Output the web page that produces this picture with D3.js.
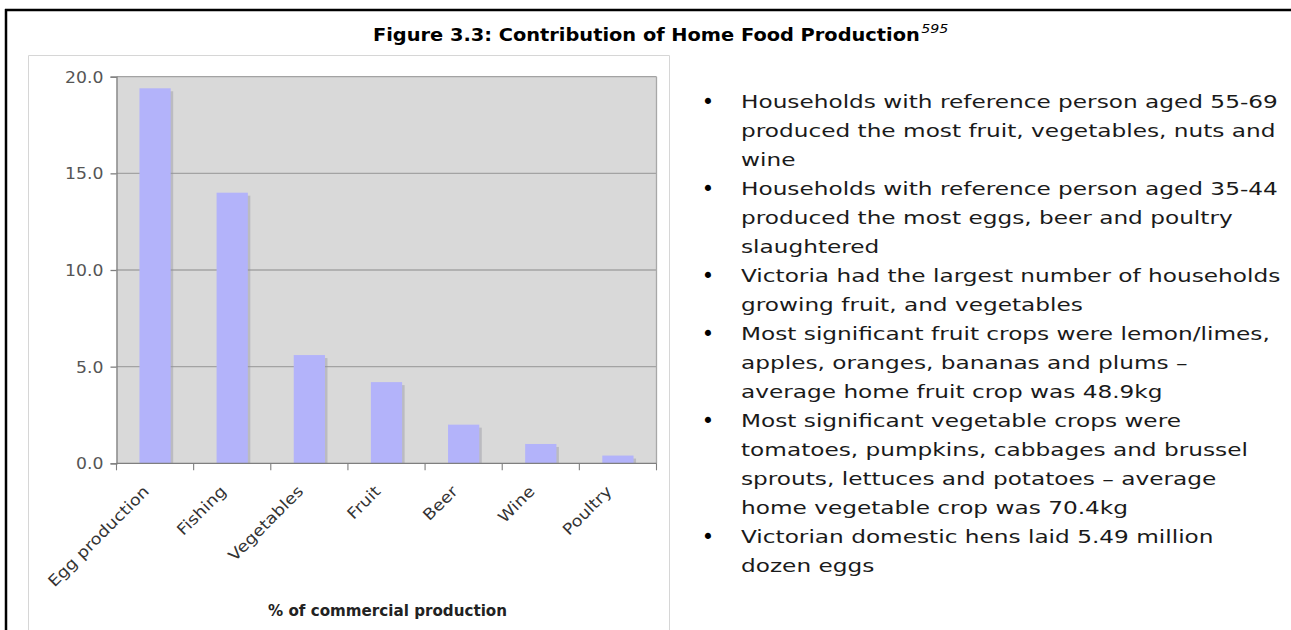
<!DOCTYPE html>
<html>
<head>
<meta charset="utf-8">
<script src="https://cdn.jsdelivr.net/npm/d3@7"></script>
<style>
  body { margin: 0; background: #fff; }
  svg { display: block; }
</style>
</head>
<body>
<svg id="fig" width="1291" height="630"></svg>
<script>
// ---- data ----
const categories = ["Egg production", "Fishing", "Vegetables", "Fruit", "Beer", "Wine", "Poultry"];
const shareOfCommercial = [19.4, 14.0, 5.6, 4.2, 2.0, 1.0, 0.4];
const yTicks = [0, 5, 10, 15, 20];
const figureTitle = "Figure 3.3: Contribution of Home Food Production";
const titleNote = "595";
const axisTitle = "% of commercial production";
const bulletPoints = [
  ["Households with reference person aged 55-69",
   "produced the most fruit, vegetables, nuts and",
   "wine"],
  ["Households with reference person aged 35-44",
   "produced the most eggs, beer and poultry",
   "slaughtered"],
  ["Victoria had the largest number of households",
   "growing fruit, and vegetables"],
  ["Most significant fruit crops were lemon/limes,",
   "apples, oranges, bananas and plums \u2013",
   "average home fruit crop was 48.9kg"],
  ["Most significant vegetable crops were",
   "tomatoes, pumpkins, cabbages and brussel",
   "sprouts, lettuces and potatoes \u2013 average",
   "home vegetable crop was 70.4kg"],
  ["Victorian domestic hens laid 5.49 million",
   "dozen eggs"]
];

// ---- layout ----
const FONT = "'DejaVu Sans', sans-serif";
const svg = d3.select("#fig");
const plot = { left: 116.5, right: 656.5, top: 76.7, bottom: 463.3 };
const wide = 1.15; // horizontal stretch giving the wide geometric letterforms

// page frame
svg.append("line").attr("x1", 5).attr("x2", 1291).attr("y1", 10).attr("y2", 10)
  .attr("stroke", "#000").attr("stroke-width", 2.5);
svg.append("line").attr("x1", 6).attr("x2", 6).attr("y1", 9).attr("y2", 630)
  .attr("stroke", "#000").attr("stroke-width", 2.5);

// title
const titleG = svg.append("g");
const titleText = titleG.append("text")
  .attr("y", 41).attr("font-family", FONT).attr("font-weight", "bold")
  .attr("font-size", 17).attr("fill", "#000").text(figureTitle);
const titleW = titleText.node().getComputedTextLength();
const titleScale = 547 / titleW;
titleG.attr("transform", `translate(373,0) scale(${titleScale},1)`);
titleG.append("text")
  .attr("x", titleW + 1).attr("y", 33).attr("font-family", FONT)
  .attr("font-style", "italic").attr("font-size", 12.5).attr("fill", "#000")
  .text(titleNote);

// chart panel frame
svg.append("path")
  .attr("d", "M28.5,630 V55.5 H669.5 V630")
  .attr("fill", "none").attr("stroke", "#d6d6d6").attr("stroke-width", 1);

// scales
const x = d3.scaleBand().domain(categories).range([plot.left, plot.right]).padding(0);
const y = d3.scaleLinear().domain([0, 20]).range([plot.bottom, plot.top]);
const barW = x.bandwidth() * 0.405;

// plot background
svg.append("rect")
  .attr("x", plot.left).attr("y", plot.top)
  .attr("width", plot.right - plot.left).attr("height", plot.bottom - plot.top)
  .attr("fill", "#d9d9d9");

// gridlines
svg.append("g").selectAll("line").data(yTicks.filter(d => d > 0)).join("line")
  .attr("x1", plot.left).attr("x2", plot.right)
  .attr("y1", d => y(d)).attr("y2", d => y(d))
  .attr("stroke", "#a3a3a3").attr("stroke-width", 1.3);
svg.append("line")
  .attr("x1", plot.right).attr("x2", plot.right).attr("y1", plot.top).attr("y2", plot.bottom)
  .attr("stroke", "#a8a8a8").attr("stroke-width", 1.3);

// bars with a soft drop shadow
const bars = svg.append("g");
bars.selectAll("rect.shadow").data(shareOfCommercial).join("rect")
  .attr("class", "shadow")
  .attr("x", (d, i) => x(categories[i]) + (x.bandwidth() - barW) / 2 + 2.5)
  .attr("y", d => y(d) + 3)
  .attr("width", barW)
  .attr("height", d => plot.bottom - y(d) - 3)
  .attr("fill", "#8f8f9a").attr("opacity", 0.4);
bars.selectAll("rect.bar").data(shareOfCommercial).join("rect")
  .attr("class", "bar")
  .attr("x", (d, i) => x(categories[i]) + (x.bandwidth() - barW) / 2)
  .attr("y", d => y(d))
  .attr("width", barW)
  .attr("height", d => plot.bottom - y(d))
  .attr("fill", "#b3b3fa");

// y axis
const yAxis = svg.append("g").attr("transform", `translate(${plot.left},0)`)
  .call(d3.axisLeft(y).tickValues(yTicks).tickSize(6).tickFormat(d3.format(".1f")));
yAxis.select(".domain").attr("stroke", "#7f7f7f").attr("stroke-width", 1.3);
yAxis.selectAll(".tick line").attr("stroke", "#7f7f7f").attr("stroke-width", 1.3);
yAxis.selectAll(".tick text")
  .attr("font-family", FONT).attr("font-size", 15).attr("fill", "#555")
  .attr("x", 0).attr("dy", "0.36em")
  .attr("transform", `translate(-13,0) scale(${wide},1)`);

// x axis: ticks sit on the category boundaries
const boundaries = categories.map(c => x(c)).concat([plot.right]);
svg.append("line")
  .attr("x1", plot.left).attr("x2", plot.right).attr("y1", plot.bottom).attr("y2", plot.bottom)
  .attr("stroke", "#7f7f7f").attr("stroke-width", 1.3);
svg.append("g").selectAll("line").data(boundaries).join("line")
  .attr("x1", d => d).attr("x2", d => d)
  .attr("y1", plot.bottom).attr("y2", plot.bottom + 7)
  .attr("stroke", "#7f7f7f").attr("stroke-width", 1.1);

// rotated category labels
svg.append("g").selectAll("text").data(categories).join("text")
  .attr("transform", d => `translate(${x(d) + x.bandwidth() / 2 - 5},${plot.bottom + 29}) rotate(-45) scale(${wide},1)`)
  .attr("text-anchor", "end")
  .attr("font-family", FONT).attr("font-size", 15.5).attr("fill", "#333")
  .text(d => d);

// axis title
svg.append("text")
  .attr("transform", `translate(${(plot.left + plot.right) / 2 + 1},616) scale(1.01,1)`)
  .attr("text-anchor", "middle")
  .attr("font-family", FONT).attr("font-weight", "bold").attr("font-size", 15)
  .attr("fill", "#222").text(axisTitle);

// bullet notes
const notes = svg.append("g");
const firstBaseline = 108, lineGap = 29;
let row = 0;
const rows = [];
bulletPoints.forEach(lines => {
  lines.forEach((ln, j) => rows.push({ text: ln, row: row + j, first: j === 0 }));
  row += lines.length;
});
const noteText = notes.append("g");
noteText.selectAll("text").data(rows).join("text")
  .attr("x", 0).attr("y", d => firstBaseline + d.row * lineGap)
  .attr("font-family", FONT).attr("font-size", 18).attr("fill", "#1a1a1a")
  .text(d => d.text);
const refW = noteText.select("text").node().getComputedTextLength();
noteText.attr("transform", `translate(741,0) scale(${537 / refW},1)`);
notes.append("g").selectAll("text").data(rows.filter(d => d.first)).join("text")
  .attr("x", 708).attr("y", d => firstBaseline + d.row * lineGap + 1)
  .attr("text-anchor", "middle")
  .attr("font-family", FONT).attr("font-size", 21).attr("fill", "#000")
  .text("\u2022");
</script>
</body>
</html>
